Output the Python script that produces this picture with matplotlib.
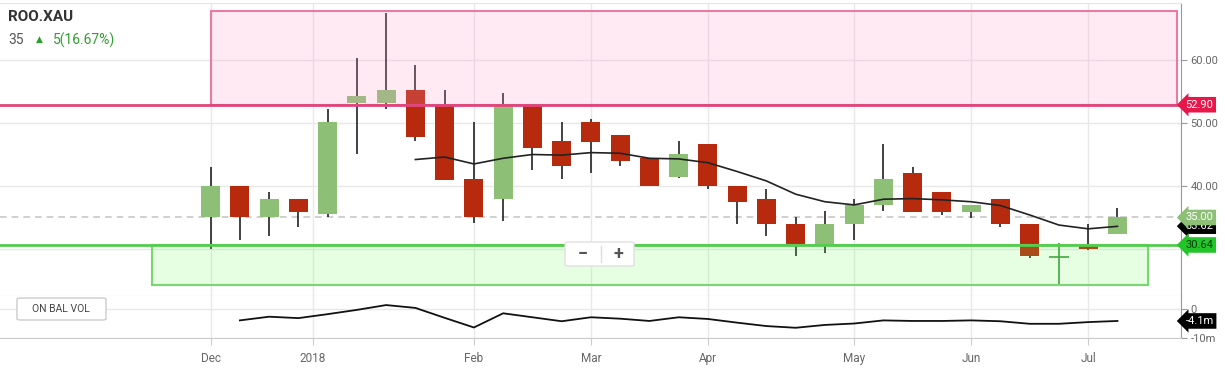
import numpy as np
import matplotlib.pyplot as plt
from matplotlib.patches import Rectangle, FancyBboxPatch

plt.rcParams['font.family'] = ['Roboto', 'DejaVu Sans']

# weekly candles
opens = [35, 40, 35, 38, 35.5, 53.2, 53.2, 55.2, 52.7, 41.1, 38, 53, 47.1, 50.1, 48.1, 44.5,
         41.5, 46.7, 40, 37.9, 34, 30.5, 33.9, 37, 42.1, 39, 35.9, 37.9, 34, 28.8, 30.4, 32.4]
highs = [43, 40, 39, 38, 52.3, 60.3, 67.4, 59.2, 55.2, 50.2, 54.8, 53, 50.2, 50.6, 48.1, 44.5,
         47.1, 46.7, 40, 39.5, 35, 36, 38, 46.7, 43, 39, 37, 37.9, 34, 30.9, 33.9, 36.5]
lows = [30, 31.5, 32, 33.5, 35, 45.1, 52.3, 47.2, 41, 34.1, 34.5, 42.5, 41.1, 42.1, 43.1, 40,
        41.2, 39.6, 34, 32, 28.9, 29.4, 31.4, 36.1, 35.9, 35.4, 34.9, 33.5, 28.5, 24.2, 29.9, 32.4]
closes = [40, 35, 38, 35.9, 50.2, 54.3, 55.2, 47.7, 41, 35, 53, 46.1, 43.1, 47, 44, 40,
          45.1, 40, 37.5, 33.9, 30.8, 34, 37, 41.1, 35.9, 35.9, 37, 33.9, 28.9, 28.8, 30, 35]
ma = [np.nan] * 7 + [44.2, 44.6, 43.5, 44.4, 45.0, 44.9, 45.3, 45.2, 44.4, 44.3, 43.7, 42.3,
                     40.8, 38.7, 37.5, 37.0, 37.9, 38.0, 37.8, 37.5, 36.9, 35.4, 33.8, 33.2, 33.6]
# on balance volume, millions
obv = [np.nan, -3.9, -2.6, -3.1, -1.7, -0.2, 1.5, 0.5, -3.0, -6.4, -1.4, -2.8, -4.2, -2.8, -3.3,
       -4.1, -2.8, -3.4, -4.7, -5.9, -6.5, -5.5, -5.0, -3.9, -4.1, -4.1, -3.9, -4.2, -5.1, -5.1,
       -4.5, -4.1]

tick_pos = [0, 3.5, 9, 13, 17, 22, 26, 30]
tick_labels = ['Dec', '2018', 'Feb', 'Mar', 'Apr', 'May', 'Jun', 'Jul']

resistance = 52.90
support = 30.64
last_close = 35.00
last_ma = 33.62
last_obv = -4.1
zone_top = (0, 33.03, 52.90, 67.8)      # x0, x1, y0, y1
zone_bottom = (-2, 32.04, 24.24, 30.64)

up_col = '#8dbf77'
down_col = '#b82a0e'

fig = plt.figure(figsize=(12.25, 3.75), dpi=100)
ax = fig.add_axes([0, 0.2107, 0.9638, 0.7813])
ax2 = fig.add_axes([0, 0.0987, 0.9638, 0.112], sharex=ax)

x = np.arange(len(opens))
o = np.array(opens); c = np.array(closes)
for i in x:
    if c[i] == o[i]:
        ax.vlines(i, lows[i], highs[i], color='#3c9a3c', lw=1.2, zorder=2)
        ax.hlines(c[i], i - 0.33, i + 0.33, color='#3c9a3c', lw=1.2, zorder=2)
        continue
    col = up_col if c[i] > o[i] else down_col
    ax.vlines(i, lows[i], highs[i], color='#222222', lw=1.2, zorder=2)
    ax.bar(i, abs(c[i] - o[i]), bottom=min(o[i], c[i]), width=0.65, color=col, zorder=2.5)

ax.plot(x, ma, color='#222222', lw=1.2, zorder=4)

ax.add_patch(Rectangle((zone_top[0], zone_top[2]), zone_top[1] - zone_top[0], zone_top[3] - zone_top[2],
                       fc=(1, 0.6, 0.8, 0.2), ec='#ea7aa0', lw=1.5, zorder=3))
ax.add_patch(Rectangle((zone_bottom[0], zone_bottom[2]), zone_bottom[1] - zone_bottom[0],
                       zone_bottom[3] - zone_bottom[2],
                       fc=(0.4, 1, 0.33, 0.16), ec='#77d870', lw=1.5, zorder=3))
ax.axhline(resistance, color='#e0457a', lw=2, zorder=5)
ax.axhline(support, color='#55cc4f', lw=2, zorder=5)
ax.axhline(last_close, color='#c8c8c8', ls=(0, (4, 3)), lw=1.2, zorder=1.5)

ax2.plot(x, obv, color='#111111', lw=1.3, zorder=3)

ax.set_xlim(-7.2, 33.16)
ax.set_ylim(22.54, 69.05)
ax2.set_ylim(-10.1, 4.7)

for a in (ax, ax2):
    a.set_xticks(tick_pos)
    a.grid(True, color='#e8e8e8', lw=1)
    a.set_axisbelow(True)
    a.yaxis.tick_right()
    a.spines['left'].set_visible(False)
    a.spines['right'].set_color('#999999')
    a.spines['bottom'].set_color('#cccccc')
    a.tick_params(axis='y', length=4, color='#999999', labelsize=8, labelcolor='#666666', pad=3)
ax.spines['top'].set_color('#e6e6e6')
ax2.spines['top'].set_visible(False)
ax.tick_params(axis='x', length=0, labelbottom=False)
ax2.set_xticklabels(tick_labels)
ax2.tick_params(axis='x', length=5, color='#cccccc', labelsize=8.5, labelcolor='#666666', pad=5)

# the 30 line label sits under the support tag, so it is left blank
ax.set_yticks([30, 40, 50, 60])
ax.set_yticklabels(['', '40.00', '50.00', '60.00'])
ax2.set_yticks([0, -10])
ax2.set_yticklabels(['0', '-10m'])


def tag(a, y, text, fc, tc):
    a.text(1.004, y, text, transform=a.get_yaxis_transform(), ha='left', va='center',
           fontsize=8, color=tc, clip_on=False, zorder=10,
           bbox=dict(boxstyle='larrow,pad=0.25', fc=fc, ec='none'))


tag(ax, resistance, '52.90', '#e8174a', 'white')
tag(ax, last_ma, '33.62', 'black', 'white')
tag(ax, last_close, '35.00', '#8dbf77', 'white')
tag(ax, support, '30.64', '#22c42a', '#0b3d0b')
tag(ax2, last_obv, '-4.1m', 'black', 'white')

# header
fig.text(0.0065, 0.955, 'ROO.XAU', fontsize=11, fontweight='bold', color='#333333', va='center')
fig.text(0.0065, 0.892, '35', fontsize=10, color='#555555', va='center')
fig.text(0.029, 0.895, '▲', fontsize=6.5, color='#2e9e2e', va='center')
fig.text(0.043, 0.892, '5(16.67%)', fontsize=10, color='#2e9e2e', va='center')

# indicator label
fig.patches.append(FancyBboxPatch((17 / 1225, 1 - 320 / 375), 89 / 1225, 22 / 375,
                                  boxstyle='round,pad=0,rounding_size=0.003', fc='white',
                                  ec='#cccccc', lw=1, transform=fig.transFigure, zorder=5))
fig.text(61 / 1225, 1 - 309 / 375, 'ON BAL VOL', fontsize=7.5, color='#444444',
         ha='center', va='center', zorder=6)

# zoom buttons
fig.patches.append(FancyBboxPatch((565 / 1225, 1 - 266 / 375), 69 / 1225, 24 / 375,
                                  boxstyle='round,pad=0,rounding_size=0.003', fc='white',
                                  ec='#e0e0e0', lw=1, transform=fig.transFigure, zorder=5))
fig.add_artist(plt.Line2D([601 / 1225, 601 / 1225], [1 - 262 / 375, 1 - 246 / 375],
                          color='#dddddd', lw=1, transform=fig.transFigure, zorder=6))
fig.text(583 / 1225, 1 - 254 / 375, '−', fontsize=13, fontweight='bold', color='#555555',
         ha='center', va='center', zorder=6)
fig.text(618 / 1225, 1 - 254 / 375, '+', fontsize=13, fontweight='bold', color='#555555',
         ha='center', va='center', zorder=6)

fig.savefig('out.png', dpi=100)
